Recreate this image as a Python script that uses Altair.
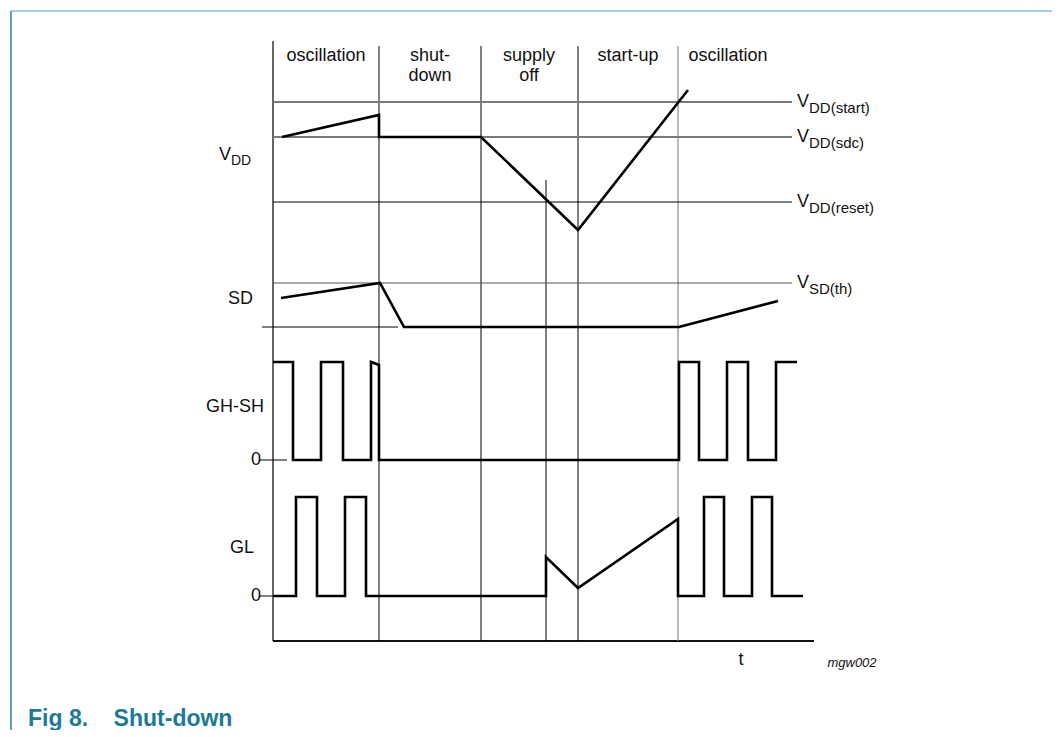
import altair as alt
import pandas as pd

# ---- coordinate system: t = time units (axis origin at 0), v = level units (time axis at 0)
T_MIN, T_MAX = -265, 779
V_MIN, V_MAX = -89, 633

# phase header
phase_text = ["oscillation", "shut-", "down", "supply", "off", "start-up", "oscillation"]
phase_t = [53, 157, 157, 256, 256, 355, 455]
phase_v = [585, 585, 565, 585, 565, 585, 585]

# vertical separators (phase boundaries)
sep_t = [106, 208, 273, 305, 405]
sep_top = [595, 595, 461, 595, 595]
sep_color = ["#000000", "#000000", "#000000", "#000000", "#777777"]

# threshold reference levels
ref_name_main = ["V", "V", "V", "V"]
ref_name_sub = ["DD(start)", "DD(sdc)", "DD(reset)", "SD(th)"]
ref_level = [539, 504, 439, 358]
ref_color = ["#7a7a7a", "#7a7a7a", "#000000", "#555555"]
ref_width = [2.0, 2.0, 1.0, 1.2]
ref_end = 519

# signals
vdd_t = [9, 106, 106, 208, 305, 415]
vdd_v = [504, 526, 504, 504, 411, 551]

sd_t = [8, 107, 131, 406, 505]
sd_v = [343, 358, 314, 314, 340]

gh_t = [0, 20, 20, 48, 48, 70, 70, 98, 98, 106, 106, 406, 406, 426, 426, 454, 454, 475, 475, 503, 503, 524]
gh_v = [279, 279, 181, 181, 279, 279, 181, 181, 279, 276, 181, 181, 279, 279, 181, 181, 279, 279, 181, 181, 279, 279]

gl_t = [0, 23, 23, 44, 44, 72, 72, 93, 93, 273, 273, 305, 405, 405, 431, 431, 451, 451, 479, 479, 499, 499, 530]
gl_v = [45, 45, 144, 144, 45, 45, 144, 144, 45, 45, 84, 53, 122, 45, 45, 144, 144, 45, 45, 144, 144, 45, 45]

# signal names (left), right-aligned end positions
sig_main = ["V", "SD", "GH-SH", "GL", "0", "0"]
sig_t = [-42, -20, -9, -19, -12, -12]
sig_v = [486, 342, 234, 93, 181, 45]
sub_dd_t = [-42]
sub_dd_v = [480]

TITLE = "Fig 8.\u00a0\u00a0\u00a0\u00a0Shut-down"

# ---- build tables
segs = []
segs.append(dict(t=0, t2=0, v=0, v2=600, c="#000000", w=1.2))
segs.append(dict(t=0, t2=541, v=0, v2=0, c="#111111", w=2.0))
for t, top, c in zip(sep_t, sep_top, sep_color):
    segs.append(dict(t=t, t2=t, v=0, v2=top, c=c, w=1.0))
for lv, c, w in zip(ref_level, ref_color, ref_width):
    segs.append(dict(t=0, t2=ref_end, v=lv, v2=lv, c=c, w=w))
segs.append(dict(t=-11, t2=125, v=314, v2=314, c="#000000", w=1.0))
segs.append(dict(t=-13, t2=14, v=181, v2=181, c="#000000", w=1.0))
segs.append(dict(t=-13, t2=0, v=45, v2=45, c="#000000", w=1.0))
segs.append(dict(t=-262, t2=779, v=630, v2=630, c="#86c1ce", w=1.5))
segs.append(dict(t=-262, t2=-262, v=-89, v2=630, c="#2a8098", w=1.5))
seg_df = pd.DataFrame(segs)

sig_rows = []
for name, ts, vs in [("VDD", vdd_t, vdd_v), ("SD", sd_t, sd_v), ("GH-SH", gh_t, gh_v), ("GL", gl_t, gl_v)]:
    for i, (t, v) in enumerate(zip(ts, vs)):
        sig_rows.append(dict(sig=name, i=i, t=t, v=v))
sig_df = pd.DataFrame(sig_rows)

xs = alt.Scale(domain=[T_MIN, T_MAX], nice=False, zero=False)
ys = alt.Scale(domain=[V_MIN, V_MAX], nice=False, zero=False)

X = lambda f: alt.X(f, type="quantitative", scale=xs, axis=None)
Y = lambda f: alt.Y(f, type="quantitative", scale=ys, axis=None)

rules = alt.Chart(seg_df).mark_rule().encode(
    x=X("t"), x2="t2", y=Y("v"), y2="v2",
    color=alt.Color("c:N", scale=None),
    strokeWidth=alt.StrokeWidth("w:Q", scale=None),
)

lines = alt.Chart(sig_df).mark_line(color="#000000", strokeWidth=2.6, strokeJoin="miter").encode(
    x=X("t"), y=Y("v"), detail="sig:N", order="i:Q"
)

FONT = "Liberation Sans"
INK = "#111111"

hdr_df = pd.DataFrame(dict(text=phase_text, t=phase_t, v=phase_v))
hdr = alt.Chart(hdr_df).mark_text(font=FONT, fontSize=18, align="center", baseline="middle", color=INK).encode(
    x=X("t"), y=Y("v"), text="text:N"
)

ref_df = pd.DataFrame(dict(m=ref_name_main, s=ref_name_sub, v=ref_level, t=[ref_end + 5] * 4))
ref_df["ts"] = ref_df["t"] + 12
ref_df["vs"] = ref_df["v"] - 6
ref_main = alt.Chart(ref_df).mark_text(font=FONT, fontSize=18, align="left", baseline="middle", color=INK).encode(
    x=X("t"), y=Y("v"), text="m:N"
)
ref_sub = alt.Chart(ref_df).mark_text(font=FONT, fontSize=15, align="left", baseline="middle", color=INK).encode(
    x=X("ts"), y=Y("vs"), text="s:N"
)

sig_lab_df = pd.DataFrame(dict(text=sig_main, t=sig_t, v=sig_v))
sig_lab = alt.Chart(sig_lab_df).mark_text(font=FONT, fontSize=18, align="right", baseline="middle", color=INK).encode(
    x=X("t"), y=Y("v"), text="text:N"
)
dd_df = pd.DataFrame(dict(text=["DD"], t=sub_dd_t, v=sub_dd_v))
dd_lab = alt.Chart(dd_df).mark_text(font=FONT, fontSize=14, align="left", baseline="middle", color=INK).encode(
    x=X("t"), y=Y("v"), text="text:N"
)

t_df = pd.DataFrame(dict(text=["t"], t=[468], v=[-19]))
t_lab = alt.Chart(t_df).mark_text(font=FONT, fontSize=18, align="center", baseline="middle", color=INK).encode(
    x=X("t"), y=Y("v"), text="text:N"
)
code_df = pd.DataFrame(dict(text=["mgw002"], t=[579], v=[-22]))
code_lab = alt.Chart(code_df).mark_text(font=FONT, fontSize=13, fontStyle="italic", align="center", baseline="middle", color=INK).encode(
    x=X("t"), y=Y("v"), text="text:N"
)
title_df = pd.DataFrame(dict(text=[TITLE], t=[-245], v=[-85]))
title_lab = alt.Chart(title_df).mark_text(font=FONT, fontSize=23, fontWeight="bold", align="left", baseline="alphabetic", color="#1b7b95").encode(
    x=X("t"), y=Y("v"), text="text:N"
)

chart = alt.layer(
    rules, lines, hdr, ref_main, ref_sub, sig_lab, dd_lab, t_lab, code_lab, title_lab
).properties(
    width=1044, height=722, padding=0, autosize="none"
).configure_view(stroke=None)

chart.save("out.html", embed_options={"renderer": "svg", "actions": False})
